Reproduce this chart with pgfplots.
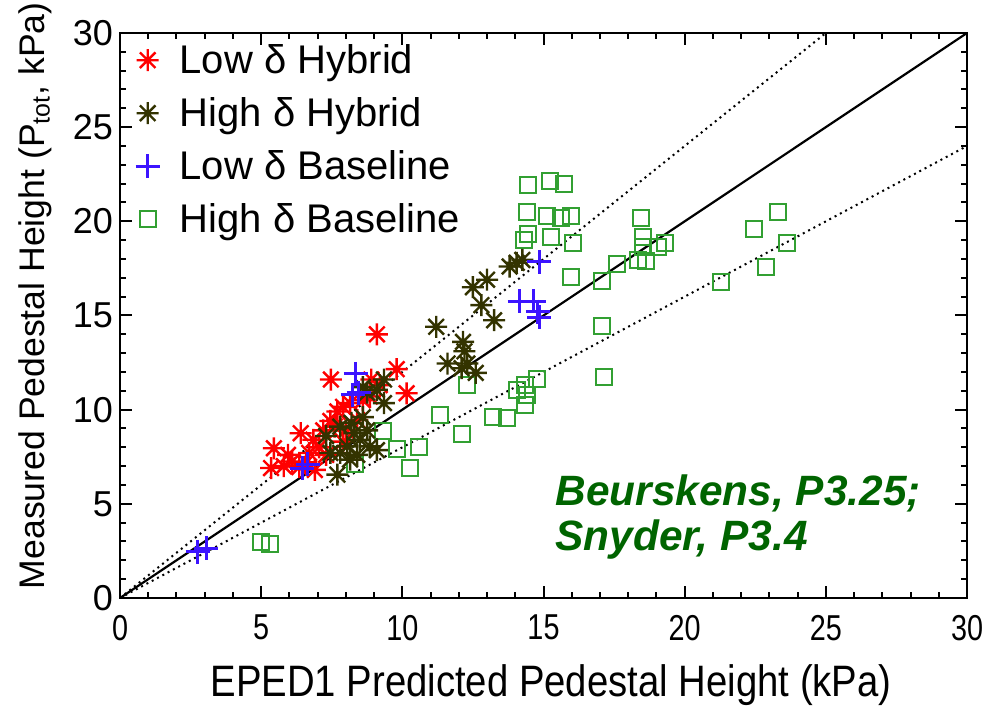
\documentclass[border=0pt]{standalone}
\usepackage{pgfplots}
\pgfplotsset{compat=1.18}
\usepackage{fontspec}
\setmainfont{Liberation Sans}
\definecolor{cred}{RGB}{255,0,0}
\definecolor{colive}{RGB}{51,51,0}
\definecolor{cblue}{RGB}{60,20,255}
\definecolor{cgreen}{RGB}{50,160,50}
\definecolor{tgreen}{RGB}{0,100,0}
\pgfdeclareplotmark{ast8}{%
 \pgfpathmoveto{\pgfqpoint{-\pgfplotmarksize}{0pt}}\pgfpathlineto{\pgfqpoint{\pgfplotmarksize}{0pt}}%
 \pgfpathmoveto{\pgfqpoint{0pt}{-\pgfplotmarksize}}\pgfpathlineto{\pgfqpoint{0pt}{\pgfplotmarksize}}%
 \pgfpathmoveto{\pgfqpoint{-0.707\pgfplotmarksize}{-0.707\pgfplotmarksize}}\pgfpathlineto{\pgfqpoint{0.707\pgfplotmarksize}{0.707\pgfplotmarksize}}%
 \pgfpathmoveto{\pgfqpoint{-0.707\pgfplotmarksize}{0.707\pgfplotmarksize}}\pgfpathlineto{\pgfqpoint{0.707\pgfplotmarksize}{-0.707\pgfplotmarksize}}%
 \pgfusepathqstroke}
\begin{document}
\begin{tikzpicture}
\begin{axis}[
 width=423.5pt, height=282.5pt, scale only axis,
 xmin=0, xmax=30, ymin=0, ymax=30,
 xtick={0,5,...,30}, ytick={0,5,...,30},
 minor tick num=4,
 tick align=inside,
 major tick length=6pt, minor tick length=3pt,
 axis line style={line width=1.3pt},
 every tick/.style={black, line width=1pt},
 tick label style={font=\fontsize{18}{20}\selectfont},
 /pgf/number format/assume math mode=true,
 xticklabel={\scalebox{0.8}[1]{\pgfmathprintnumber{\tick}}},
 xticklabel style={yshift=-5pt},
 xlabel={\scalebox{0.87}[1]{EPED1 Predicted Pedestal Height (kPa)}},
 ylabel={Measured Pedestal Height (P\textsubscript{tot}, kPa)},
 xlabel style={at={(rel axis cs:0.509,-0.155)}, anchor=center, font=\fontsize{22}{24}\selectfont},
 ylabel style={at={(rel axis cs:-0.1,0.535)}, anchor=center, font=\fontsize{17.8}{21}\selectfont},
 legend style={draw=none, fill=none, at={(rel axis cs:0.011,0.995)}, anchor=north west,
   font=\fontsize{20}{22}\selectfont, row sep=6.5pt, column sep=8pt},
 legend cell align=left,
]
\addlegendimage{only marks, mark=ast8, mark size=5.5pt, cred, line width=1.2pt}
\addlegendentry{Low δ Hybrid}
\addlegendimage{only marks, mark=ast8, mark size=5.5pt, colive, line width=1.2pt}
\addlegendentry{High δ Hybrid}
\addlegendimage{only marks, mark=+, mark size=6pt, cblue, line width=1.5pt}
\addlegendentry{Low δ Baseline}
\addlegendimage{only marks, mark=square, mark size=4pt, cgreen, line width=1pt}
\addlegendentry{High δ Baseline}

% High delta Baseline
\addplot[only marks, mark=square, mark size=4pt, cgreen, line width=1pt, forget plot] coordinates {
(4.98,2.99) (5.31,2.87) (8.32,7.1) (9.3,8.87) (9.8,7.9) (10.27,6.89) (10.6,8.0)
(11.34,9.72) (12.1,8.71) (12.28,11.31) (13.2,9.63) (13.7,9.54) (14.05,11.05)
(14.35,11.31) (14.4,10.78) (14.35,10.25) (14.78,11.61) (17.14,11.75) (17.06,14.45)
(14.46,21.93) (15.23,22.16) (15.74,21.99) (14.43,20.48) (15.11,20.29) (15.62,20.16)
(15.98,20.3) (14.46,19.33) (14.31,19.01) (15.26,19.19) (16.04,18.84) (15.96,17.03)
(17.06,16.83) (17.59,17.72) (18.33,17.95) (18.63,17.91) (18.51,18.66) (18.51,19.15)
(19.07,18.66) (19.31,18.84) (18.44,20.16) (21.3,16.8) (22.47,19.6) (22.87,17.56)
(23.32,20.52) (23.64,18.84)
};
% Low delta Hybrid
\addplot[only marks, mark=ast8, mark size=5.5pt, cred, line width=1.2pt, forget plot] coordinates {
(5.35,6.9) (5.45,7.95) (5.95,7.6) (6.1,7.25) (6.4,8.75) (6.35,6.95) (6.7,7.7)
(6.85,8.4) (7.05,8.0) (7.2,8.9) (7.45,9.4) (7.6,9.1) (7.7,9.9) (7.9,10.15)
(8.15,10.35) (8.4,9.45) (8.6,10.5) (8.85,10.7) (7.47,11.6) (9.1,14.0) (9.8,12.15)
(10.15,10.87) (8.9,11.6) (9.2,11.3) (6.6,7.2) (7.9,8.3) (6.9,6.8) (8.0,8.9)
(7.3,7.6) (5.8,7.0)
};
% High delta Hybrid
\addplot[only marks, mark=ast8, mark size=5.5pt, colive, line width=1.2pt, forget plot] coordinates {
(7.3,8.6) (7.7,6.55) (7.45,7.7) (7.8,7.7) (7.8,9.1) (8.05,8.05) (8.15,7.35)
(8.2,9.3) (8.3,8.75) (8.4,7.6) (8.5,8.4) (8.75,8.9) (8.85,8.05) (9.1,7.85)
(8.6,11.2) (9.1,11.05) (9.35,11.6) (9.35,10.35) (8.75,10.9) (8.6,9.6)
(11.2,14.4) (11.6,12.45) (12.15,13.6) (12.2,13.1) (12.3,12.45) (12.1,12.2)
(12.6,11.95) (12.5,16.5) (13.0,16.9) (12.8,15.55) (13.25,14.75) (13.8,17.6)
(14.05,17.8) (14.25,17.95)
};
% Low delta Baseline
\addplot[only marks, mark=+, mark size=6pt, cblue, line width=1.5pt, forget plot] coordinates {
(2.75,2.45) (3.05,2.65) (6.45,6.9) (6.65,7.1) (8.35,11.9) (8.25,10.8) (8.45,10.9)
(14.15,15.75) (14.65,15.75) (14.8,15.2) (14.85,14.9) (14.85,17.85)
};
% reference lines
\addplot[black, line width=1.1pt, forget plot] coordinates {(0,0) (30,30)};
\addplot[black, dotted, line width=1pt, forget plot] coordinates {(0,0) (25,30)};
\addplot[black, dotted, line width=1pt, forget plot] coordinates {(0,0) (30,24)};
\node[anchor=west, align=left, inner sep=0pt, text=tgreen, font=\fontsize{21.2}{22.5}\selectfont\bfseries\itshape]
  at (axis cs:15.41,4.3) {Beurskens, P3.25;\\Snyder, P3.4};
\coordinate (bbll) at (rel axis cs:-0.1417,-0.1894);
\coordinate (bbur) at (rel axis cs:1.0236,1.0584);
\end{axis}
\pgfresetboundingbox
\path[use as bounding box] (bbll) rectangle (bbur);
\end{tikzpicture}
\end{document}
